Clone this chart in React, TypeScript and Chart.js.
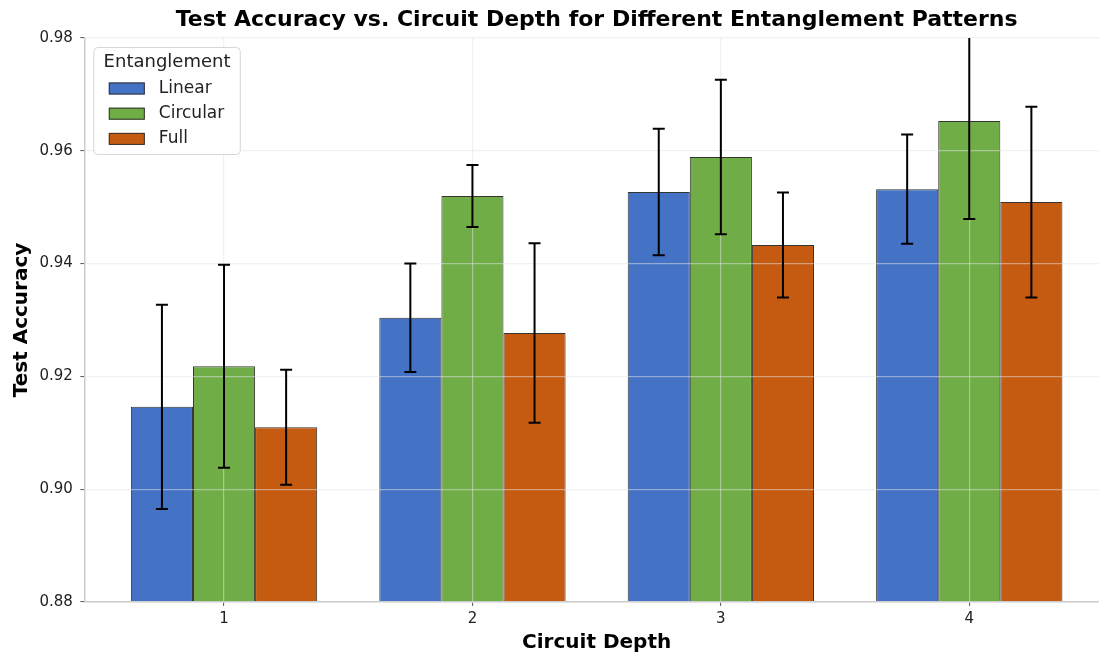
import React, { useEffect, useRef } from "react";
import { Chart, registerables } from "chart.js";

Chart.register(...registerables);

const depths = [1, 2, 3, 4];
const seriesNames = ["Linear", "Circular", "Full"];
const linearAcc = [0.9146, 0.9304, 0.9527, 0.9532];
const linearErr = [0.0181, 0.0096, 0.0112, 0.0097];
const circularAcc = [0.9218, 0.952, 0.9589, 0.9653];
const circularErr = [0.018, 0.0055, 0.0137, 0.0174];
const fullAcc = [0.911, 0.9277, 0.9433, 0.9509];
const fullErr = [0.0102, 0.0159, 0.0093, 0.0169];
const seriesColors = ["#4472C4", "#70AD47", "#C55A11"];
const yTicks = [0.88, 0.9, 0.92, 0.94, 0.96, 0.98];

const FONT = '"DejaVu Sans", sans-serif';

const errorBarPlugin = {
  id: "errorBars",
  afterDraw(chart: any) {
    const { ctx, chartArea } = chart;
    const yScale = chart.scales.y;
    ctx.save();
    ctx.beginPath();
    ctx.rect(chartArea.left, chartArea.top, chartArea.right - chartArea.left, chartArea.bottom - chartArea.top);
    ctx.clip();
    ctx.strokeStyle = "#000";
    ctx.lineWidth = 2;
    chart.data.datasets.forEach((ds: any, di: number) => {
      const meta = chart.getDatasetMeta(di);
      meta.data.forEach((bar: any, i: number) => {
        const v = ds.data[i].y;
        const e = ds.errors[i];
        const x = bar.x;
        const yTop = yScale.getPixelForValue(v + e);
        const yBot = yScale.getPixelForValue(v - e);
        ctx.beginPath();
        ctx.moveTo(x, yTop);
        ctx.lineTo(x, yBot);
        ctx.moveTo(x - 6, yTop);
        ctx.lineTo(x + 6, yTop);
        ctx.moveTo(x - 6, yBot);
        ctx.lineTo(x + 6, yBot);
        ctx.stroke();
      });
    });
    ctx.restore();
  },
};

const boxLegendPlugin = {
  id: "boxLegend",
  afterDraw(chart: any) {
    const { ctx, chartArea } = chart;
    const x0 = chartArea.left + 9.5;
    const y0 = chartArea.top + 9.5;
    const w = 146.5;
    const h = 107;
    ctx.save();
    ctx.beginPath();
    (ctx as any).roundRect(x0, y0, w, h, 4);
    ctx.fillStyle = "rgba(255,255,255,0.85)";
    ctx.fill();
    ctx.strokeStyle = "#d6d6d6";
    ctx.lineWidth = 1;
    ctx.stroke();
    ctx.fillStyle = "#222";
    ctx.textAlign = "center";
    ctx.textBaseline = "middle";
    ctx.font = `18px ${FONT}`;
    ctx.fillText("Entanglement", x0 + w / 2, y0 + 14.5);
    chart.data.datasets.forEach((ds: any, i: number) => {
      const sy = y0 + 35 + i * 25.2;
      ctx.fillStyle = ds.backgroundColor;
      ctx.fillRect(x0 + 15, sy, 36, 12);
      ctx.strokeStyle = "#333";
      ctx.lineWidth = 1;
      ctx.strokeRect(x0 + 15.5, sy + 0.5, 35, 11);
      ctx.fillStyle = "#222";
      ctx.textAlign = "left";
      ctx.font = `17px ${FONT}`;
      ctx.fillText(ds.label, x0 + 65, sy + 6);
    });
    ctx.restore();
  },
};

export default function App() {
  const ref = useRef<HTMLCanvasElement | null>(null);

  useEffect(() => {
    if (!ref.current) return;
    const accs = [linearAcc, circularAcc, fullAcc];
    const errs = [linearErr, circularErr, fullErr];
    const gridColor = "rgba(228,228,228,0.5)";
    const chart = new Chart(ref.current, {
      type: "bar",
      data: {
        datasets: seriesNames.map((name, si) => ({
          label: name,
          data: depths.map((d, i) => ({ x: d, y: accs[si][i] })),
          errors: errs[si],
          backgroundColor: seriesColors[si],
          borderColor: "rgba(30,30,30,0.9)",
          borderWidth: 1,
          categoryPercentage: 0.75,
          barPercentage: 1.0,
        })) as any,
      },
      options: {
        responsive: false,
        animation: false,
        devicePixelRatio: 1,
        layout: { padding: 0 },
        plugins: {
          legend: { display: false },
          tooltip: { enabled: false },
          title: {
            display: true,
            text: "Test Accuracy vs. Circuit Depth for Different Entanglement Patterns",
            fullSize: false,
            color: "#000",
            font: { family: FONT, size: 22, weight: "bold" },
            padding: { top: 6.8, bottom: 4.8 },
          },
        },
        scales: {
          x: {
            type: "linear",
            min: 0.4375,
            max: 4.5625,
            offset: false,
            afterBuildTicks: (scale: any) => {
              scale.ticks = depths.map((v) => ({ value: v }));
            },
            afterFit: (scale: any) => {
              scale.height = 54;
            },
            ticks: {
              color: "#222",
              font: { family: FONT, size: 15 },
              padding: 4,
              callback: (v: any) => String(v),
            },
            grid: {
              z: 1,
              offset: false,
              color: gridColor,
              lineWidth: 1.2,
              drawTicks: true,
              tickLength: 4,
              tickColor: "#555",
              tickWidth: 1,
            },
            border: { display: true, color: "#cccccc", width: 1.5, z: 2 },
            title: {
              display: true,
              text: "Circuit Depth",
              color: "#000",
              font: { family: FONT, size: 20, weight: "bold" },
              padding: { top: 0, bottom: 1 },
            },
          },
          y: {
            type: "linear",
            min: 0.88,
            max: 0.98,
            afterBuildTicks: (scale: any) => {
              scale.ticks = yTicks.map((v) => ({ value: v }));
            },
            afterFit: (scale: any) => {
              scale.width = 84.3;
            },
            ticks: {
              color: "#222",
              font: { family: FONT, size: 15 },
              padding: 7.5,
              callback: (v: any) => Number(v).toFixed(2),
            },
            grid: {
              z: 1,
              color: gridColor,
              lineWidth: 1.2,
              drawTicks: true,
              tickLength: 4,
              tickColor: "#555",
              tickWidth: 1,
            },
            border: { display: true, color: "#cccccc", width: 1.5, z: 2 },
            title: {
              display: true,
              text: "Test Accuracy",
              color: "#000",
              font: { family: FONT, size: 20, weight: "bold" },
              padding: { top: 10, bottom: 0 },
            },
          },
        },
      } as any,
      plugins: [errorBarPlugin, boxLegendPlugin],
    });
    return () => chart.destroy();
  }, []);

  return (
    <div
      style={{
        position: "fixed",
        left: 0,
        top: 0,
        width: 1099,
        height: 656,
        overflow: "hidden",
        background: "#fff",
      }}
    >
      <canvas ref={ref} width={1109} height={656} style={{ display: "block" }} />
    </div>
  );
}
